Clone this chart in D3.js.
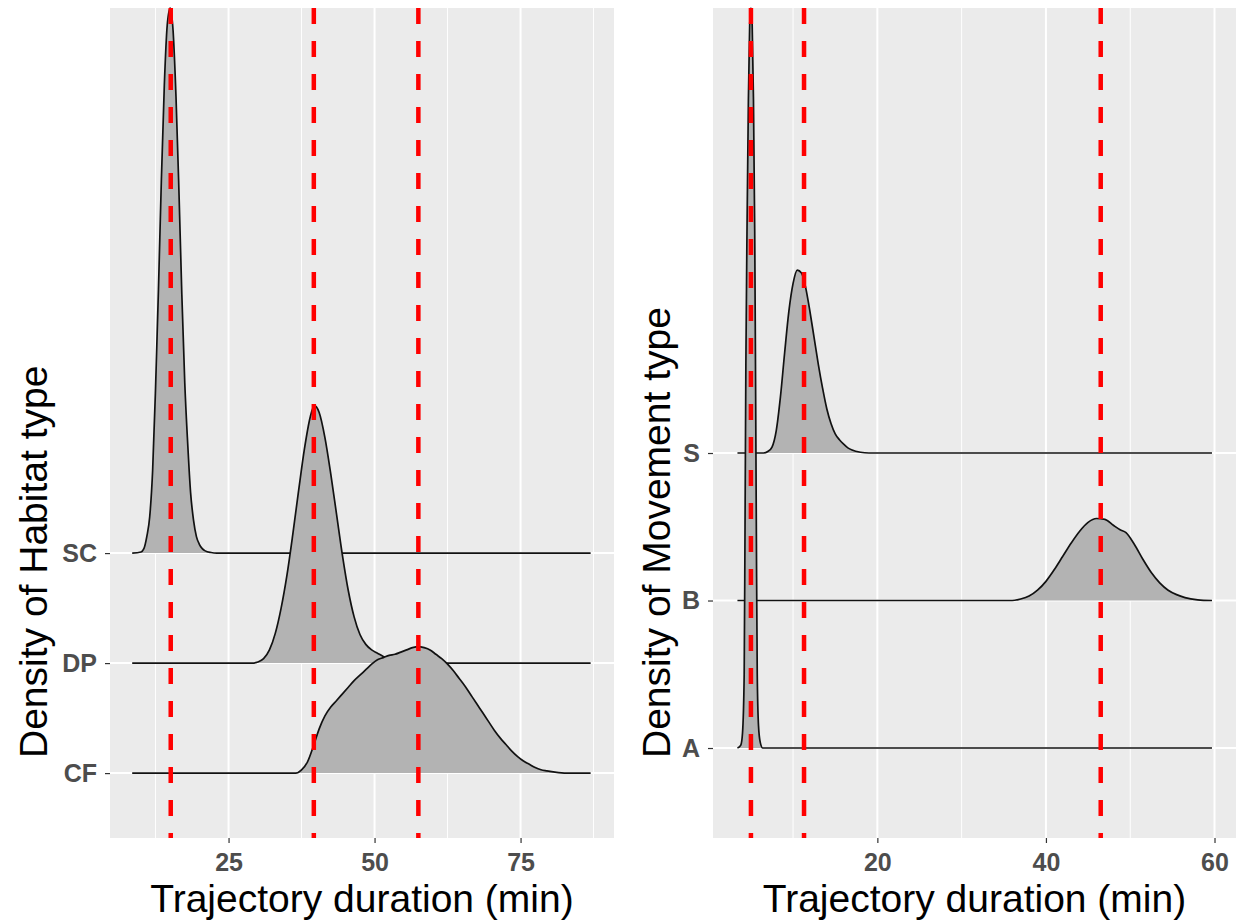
<!DOCTYPE html>
<html>
<head>
<meta charset="utf-8">
<script src="https://cdn.jsdelivr.net/npm/d3@7"></script>
<style>
  body { margin: 0; background: #fff; }
  svg { display: block; font-family: "Liberation Sans", Arial, sans-serif; }
</style>
</head>
<body>
<svg width="1239" height="924"></svg>
<script>
// ---- data ----
// left panel: habitat type, ridge heights in units of row spacing
const habitatCats = ["CF", "DP", "SC"]
const habitatMeans = [57.5, 39.6, 15.1]
const habitatTicks = [25, 50, 75]

const ridgeSC = [[8.5,0],[10,0.01],[10.5,0.04],[11,0.15],[11.5,0.33],[12,0.75],[12.5,1.5],[13,2.4],[13.5,3.4],[14,4.25],[14.5,4.8],[15,4.955],[15.5,4.75],[16,4.15],[16.5,3.3],[17,2.35],[17.5,1.55],[18,1.0],[18.5,0.55],[19,0.3],[19.5,0.15],[20,0.08],[20.5,0.04],[21,0.02],[22,0.005],[23,0],[87,0]]
const ridgeDP = [[8.5,0],[29,0],[30,0.01],[31,0.04],[32,0.12],[33,0.27],[34,0.5],[35,0.8],[36,1.17],[37,1.57],[38,1.95],[39,2.24],[39.7,2.34],[40.5,2.28],[41.5,2.05],[42.5,1.72],[43.5,1.35],[44.5,0.98],[45.5,0.66],[46.5,0.42],[47.5,0.26],[48.5,0.17],[49.5,0.12],[50.5,0.09],[51.5,0.06],[52.5,0.04],[54,0.02],[56,0.005],[58,0],[87,0]]
const ridgeCF = [[8.5,0],[36.5,0],[37.5,0.03],[38.5,0.1],[39.5,0.24],[40.5,0.4],[41.5,0.52],[42.5,0.6],[43.5,0.66],[44.5,0.72],[45.5,0.78],[46.5,0.84],[47.5,0.89],[48.5,0.94],[49.5,0.99],[50.5,1.03],[51.5,1.05],[52.5,1.07],[53.5,1.08],[54.5,1.1],[55.5,1.12],[56.5,1.14],[57.5,1.15],[58.5,1.14],[59.5,1.12],[60.5,1.08],[61.5,1.04],[62.5,0.99],[63.5,0.93],[64.5,0.86],[65.5,0.79],[66.5,0.71],[67.5,0.63],[68.5,0.55],[69.5,0.47],[70.5,0.39],[71.5,0.32],[72.5,0.26],[73.5,0.2],[74.5,0.15],[75.5,0.11],[76.5,0.08],[77.5,0.05],[78.5,0.03],[79.5,0.02],[81.5,0.005],[83.5,0],[87,0]]

// right panel: movement type
const moveCats = ["A", "B", "S"]
const moveMeans = [5.0, 46.5, 11.3]
const moveTicks = [20, 40, 60]

const ridgeA = [[3.4,0],[3.8,0.02],[4.0,0.1],[4.2,0.5],[4.3,1.5],[4.4,2.6],[4.55,3.6],[4.7,4.4],[4.85,4.9],[5.0,5.017],[5.15,4.9],[5.3,4.4],[5.45,3.5],[5.55,2.5],[5.65,1.4],[5.75,0.5],[5.9,0.15],[6.1,0.04],[6.4,0],[59.7,0]]
const ridgeB = [[3.4,0],[36,0],[37,0.01],[38,0.03],[39,0.07],[40,0.13],[41,0.21],[42,0.3],[43,0.39],[44,0.47],[45,0.53],[46,0.556],[47,0.55],[48,0.51],[48.8,0.48],[49.5,0.46],[50.5,0.38],[51.5,0.28],[52.5,0.19],[53.5,0.12],[54.5,0.07],[55.5,0.04],[56.5,0.02],[58,0.005],[59.7,0]]
const ridgeS = [[3.4,0],[6.5,0],[7,0.01],[7.5,0.04],[8,0.15],[8.5,0.38],[9,0.68],[9.5,0.96],[10,1.15],[10.5,1.24],[11,1.22],[11.5,1.12],[12,0.96],[12.5,0.78],[13,0.6],[13.5,0.44],[14,0.3],[14.5,0.2],[15,0.13],[15.5,0.09],[16,0.06],[16.5,0.035],[17,0.02],[18,0.005],[19,0],[59.7,0]]

const svg = d3.select("svg")

function ridgePanel(opt) {
    const x = d3.scaleLinear().domain(opt.xDomain).range([opt.left, opt.right])
    const y = d3.scaleLinear().domain(opt.yDomain).range([opt.bottom, opt.top])
    const g = svg.append("g")

    g.append("rect")
        .attr("x", opt.left).attr("y", opt.top)
        .attr("width", opt.right - opt.left).attr("height", opt.bottom - opt.top)
        .attr("fill", "#EBEBEB")

    // grid
    g.selectAll(".minor").data(opt.minor).join("line")
        .attr("x1", d => x(d)).attr("x2", d => x(d))
        .attr("y1", opt.top).attr("y2", opt.bottom)
        .attr("stroke", "#fff").attr("stroke-width", 1)
    g.selectAll(".major").data(opt.ticks).join("line")
        .attr("x1", d => x(d)).attr("x2", d => x(d))
        .attr("y1", opt.top).attr("y2", opt.bottom)
        .attr("stroke", "#fff").attr("stroke-width", 2)
    g.selectAll(".hgrid").data(opt.cats).join("line")
        .attr("x1", opt.left).attr("x2", opt.right)
        .attr("y1", (d, i) => y(i)).attr("y2", (d, i) => y(i))
        .attr("stroke", "#fff").attr("stroke-width", 2)

    // ridges, top row first so lower rows sit in front
    const order = opt.ridges.map((r, i) => i).reverse()
    order.forEach(i => {
        const pts = opt.ridges[i]
        const area = d3.area()
            .x(d => x(d[0]))
            .y0(y(i))
            .y1(d => y(i + d[1]))
            .curve(d3.curveMonotoneX)
        const line = d3.line()
            .x(d => x(d[0]))
            .y(d => y(i + d[1]))
            .curve(d3.curveMonotoneX)
        g.append("path").attr("d", area(pts)).attr("fill", "#B3B3B3")
        g.append("path").attr("d", line(pts))
            .attr("fill", "none").attr("stroke", "#111").attr("stroke-width", 1.7)
    })

    // mean lines
    g.selectAll(".vline").data(opt.means).join("line")
        .attr("x1", d => x(d)).attr("x2", d => x(d))
        .attr("y1", opt.top).attr("y2", opt.bottom)
        .attr("stroke", "#FF0000").attr("stroke-width", 4.5)
        .attr("stroke-dasharray", "16,17")

    // x axis
    const xa = g.append("g").attr("transform", `translate(0,${opt.bottom})`)
        .call(d3.axisBottom(x).tickValues(opt.ticks).tickSize(5).tickPadding(10))
    xa.select(".domain").remove()
    xa.selectAll("line").attr("stroke", "#333").attr("stroke-width", 1.2)
    xa.selectAll("text").attr("fill", "#4D4D4D").attr("font-size", 25)
        .attr("font-weight", "bold").attr("font-family", "Liberation Sans, Arial, sans-serif")

    // y axis
    const ya = g.append("g").attr("transform", `translate(${opt.left},0)`)
        .call(d3.axisLeft(y).tickValues(opt.cats.map((d, i) => i))
            .tickFormat((d, i) => opt.cats[i]).tickSize(5).tickPadding(8))
    ya.select(".domain").remove()
    ya.selectAll("line").attr("stroke", "#333").attr("stroke-width", 1.2)
    ya.selectAll("text").attr("fill", "#4D4D4D").attr("font-size", 25)
        .attr("font-weight", "bold").attr("font-family", "Liberation Sans, Arial, sans-serif")

    // titles
    g.append("text")
        .attr("x", (opt.left + opt.right) / 2).attr("y", 912)
        .attr("text-anchor", "middle").attr("font-size", 39).attr("fill", "#000")
        .text("Trajectory duration (min)")
    g.append("text")
        .attr("transform", `translate(${opt.titleX},758) rotate(-90)`)
        .attr("text-anchor", "start").attr("font-size", 39).attr("fill", "#000")
        .text(opt.yTitle)
}

ridgePanel({
    left: 110, right: 614, top: 8, bottom: 838,
    xDomain: [4.7, 91.0], yDomain: [-0.59, 6.955],
    ticks: habitatTicks, minor: [12.5, 37.5, 62.5, 87.5],
    cats: habitatCats, ridges: [ridgeCF, ridgeDP, ridgeSC],
    means: habitatMeans, titleX: 47, yTitle: "Density of Habitat type"
})

ridgePanel({
    left: 713, right: 1236, top: 8, bottom: 838,
    xDomain: [0.5, 62.55], yDomain: [-0.61, 5.017],
    ticks: moveTicks, minor: [10, 30, 50],
    cats: moveCats, ridges: [ridgeA, ridgeB, ridgeS],
    means: moveMeans, titleX: 670, yTitle: "Density of Movement type"
})
</script>
</body>
</html>
